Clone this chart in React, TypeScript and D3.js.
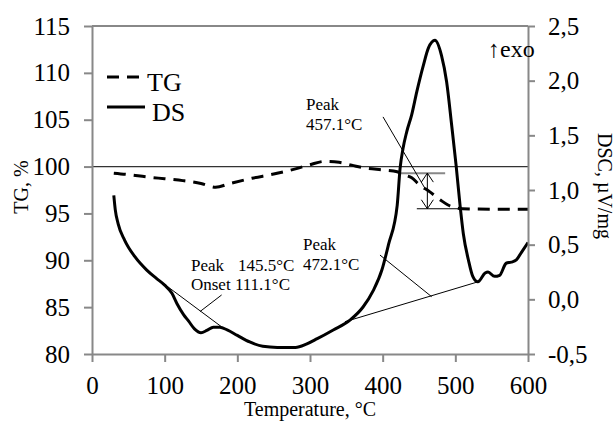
import React, { useEffect, useRef } from "react";
import { scaleLinear, line, curveMonotoneX, axisLeft, axisRight, axisBottom, select } from "d3";

// TG curve (left axis, %)
const tgTemp = [30, 50, 75, 100, 125, 150, 170, 190, 220, 250, 280, 300, 320, 340, 360, 380, 400, 420, 430, 440, 450, 465, 480, 490, 500, 510, 550, 600];
const tgMass = [99.3, 99.15, 98.9, 98.7, 98.5, 98.2, 97.8, 98.2, 98.75, 99.2, 99.75, 100.2, 100.55, 100.45, 100.1, 99.8, 99.65, 99.45, 99.1, 98.8, 98.1, 97.3, 96.4, 95.9, 95.6, 95.5, 95.45, 95.45];

// DSC curve (right axis, µV/mg)
const dscTemp = [30, 32, 36, 45, 59, 75, 89, 100, 110, 117, 126, 133, 141, 150, 158, 167, 176, 186, 200, 217, 235, 255, 280, 295, 310, 332, 355, 373, 387, 399, 408, 420, 424, 428, 433, 440, 447, 456, 463, 472, 481, 488, 495, 501, 506.5, 511, 518, 524, 531, 541, 545, 554, 561, 570, 577, 584, 591, 600];
const dscSignal = [0.95, 0.82, 0.69, 0.54, 0.39, 0.27, 0.19, 0.13, 0.055, -0.04, -0.14, -0.2, -0.27, -0.305, -0.285, -0.255, -0.255, -0.28, -0.33, -0.39, -0.43, -0.44, -0.44, -0.41, -0.36, -0.28, -0.19, -0.07, 0.08, 0.27, 0.5, 0.86, 1.2, 1.38, 1.53, 1.69, 1.9, 2.14, 2.3, 2.37, 2.23, 1.99, 1.59, 1.23, 0.86, 0.6, 0.36, 0.21, 0.16, 0.24, 0.25, 0.21, 0.22, 0.33, 0.34, 0.36, 0.43, 0.52];

const tempTicks = [0, 100, 200, 300, 400, 500, 600];
const massTicks = [80, 85, 90, 95, 100, 105, 110, 115];
const dscTicks = [-0.5, 0, 0.5, 1, 1.5, 2, 2.5];

// annotation lines, in data units [temp, value]
const onsetTangent = [[98, 0.146], [178, -0.25]];
const onsetPointer = [[178.4, 0.04], [148.6, -0.112]];
const peakBaseline = [[348, -0.205], [531.6, 0.161]];
const peakPointer = [[396.3, 0.405], [467.4, 0.024]];
const stepTop = [[425, 99.3], [486, 99.3]];
const stepBottom = [[447, 95.5], [517, 95.5]];
const stepArrow = [[461.5, 99.3], [461.5, 95.5]];
const dtgPointer = [[400.5, 105.3], [458, 97.7]];

const W = 615;
const H = 421;
const margin = { top: 26, right: 87, bottom: 67, left: 92 };
const font = "'Liberation Serif', 'Times New Roman', serif";

export default function App() {
  const leftRef = useRef(null);
  const rightRef = useRef(null);
  const bottomRef = useRef(null);

  const x = scaleLinear().domain([0, 600]).range([margin.left, W - margin.right]);
  const yL = scaleLinear().domain([80, 115]).range([H - margin.bottom, margin.top]);
  const yR = scaleLinear().domain([-0.5, 2.5]).range([H - margin.bottom, margin.top]);

  const tgLine = line<number>()
    .x((d, i) => x(tgTemp[i]))
    .y(d => yL(d))
    .curve(curveMonotoneX);

  const dscLine = line<number>()
    .x((d, i) => x(dscTemp[i]))
    .y(d => yR(d))
    .curve(curveMonotoneX);

  const segR = (pts: number[][]) => line<number[]>().x(d => x(d[0])).y(d => yR(d[1]))(pts);
  const segL = (pts: number[][]) => line<number[]>().x(d => x(d[0])).y(d => yL(d[1]))(pts);

  useEffect(() => {
    const style = (g: any) => {
      g.select(".domain").attr("stroke", "#888").attr("stroke-width", 2);
      g.selectAll(".tick line").attr("stroke", "#888").attr("stroke-width", 2);
      g.selectAll(".tick text").attr("fill", "#000").style("font-family", font).style("font-size", "25px");
    };

    select(leftRef.current)
      .call(axisLeft(yL).tickValues(massTicks).tickSize(8).tickSizeOuter(0).tickPadding(14).tickFormat(d => String(d)))
      .call(style);

    select(rightRef.current)
      .call(axisRight(yR).tickValues(dscTicks).tickSize(7).tickSizeOuter(0).tickPadding(13)
        .tickFormat(d => (+d).toFixed(1).replace(".", ",")))
      .call(style);

    select(bottomRef.current)
      .call(axisBottom(x).tickValues(tempTicks).tickSize(8).tickSizeOuter(0).tickPadding(14).tickFormat(d => String(d)))
      .call(style);
  }, []);

  const arrowTop = [x(stepArrow[0][0]), yL(stepArrow[0][1])];
  const arrowBot = [x(stepArrow[1][0]), yL(stepArrow[1][1])];

  return (
    <svg width={W} height={H} style={{ position: "absolute", left: 0, top: 0, background: "#fff" }}>
      <rect width={W} height={H} fill="#fff" />
      {/* top frame */}
      <line x1={x(0)} x2={x(600)} y1={yL(115)} y2={yL(115)} stroke="#888" strokeWidth={2} />

      {/* reference line at 100 % */}
      <line x1={x(0)} x2={x(600)} y1={yL(100)} y2={yL(100)} stroke="#333" strokeWidth={1.2} />

      {/* annotation lines */}
      <path d={segR(onsetTangent)} stroke="#000" strokeWidth={1} fill="none" />
      <path d={segR(onsetPointer)} stroke="#000" strokeWidth={1} fill="none" />
      <path d={segR(peakBaseline)} stroke="#000" strokeWidth={1} fill="none" />
      <path d={segR(peakPointer)} stroke="#000" strokeWidth={1} fill="none" />
      <path d={segL(stepTop)} stroke="#888" strokeWidth={2} fill="none" />
      <path d={segL(stepBottom)} stroke="#000" strokeWidth={1.2} fill="none" />
      <path d={segL(dtgPointer)} stroke="#000" strokeWidth={1} fill="none" />
      <path d={segL(stepArrow)} stroke="#000" strokeWidth={1} fill="none" />
      <path
        d={`M${arrowTop[0] - 6},${arrowTop[1] + 9}L${arrowTop[0]},${arrowTop[1]}L${arrowTop[0] + 6},${arrowTop[1] + 9}`}
        stroke="#000" strokeWidth={1} fill="none"
      />
      <path
        d={`M${arrowBot[0] - 6},${arrowBot[1] - 9}L${arrowBot[0]},${arrowBot[1]}L${arrowBot[0] + 6},${arrowBot[1] - 9}`}
        stroke="#000" strokeWidth={1} fill="none"
      />

      {/* data */}
      <path d={tgLine(tgMass) || ""} fill="none" stroke="#000" strokeWidth={3} strokeDasharray="12,8" />
      <path d={dscLine(dscSignal) || ""} fill="none" stroke="#000" strokeWidth={3} />

      {/* axes */}
      <g ref={leftRef} transform={`translate(${margin.left},0)`} />
      <g ref={rightRef} transform={`translate(${W - margin.right},0)`} />
      <g ref={bottomRef} transform={`translate(0,${H - margin.bottom})`} />

      <g fontFamily={font} fill="#000">
        {/* annotation text */}
        <g fontSize={17}>
          <text x={x(136.2)} y={yR(0.262)}>Peak</text>
          <text x={x(200.9)} y={yR(0.262)}>145.5°C</text>
          <text x={x(136.2)} y={yR(0.085)}>Onset 111.1°C</text>
          <text x={x(290.4)} y={yR(0.451)}>Peak</text>
          <text x={x(290.4)} y={yR(0.268)}>472.1°C</text>
          <text x={x(294.5)} y={yR(1.732)}>Peak</text>
          <text x={x(294.5)} y={yR(1.549)}>457.1°C</text>
        </g>
        <text x={x(545)} y={yR(2.216)} fontSize={24}>↑exo</text>

        {/* legend */}
        <line x1={107} x2={140} y1={77} y2={77} stroke="#000" strokeWidth={3} strokeDasharray="12,8" />
        <text x={147} y={91} fontSize={26}>TG</text>
        <line x1={107} x2={145} y1={107} y2={107} stroke="#000" strokeWidth={3} />
        <text x={152} y={121} fontSize={26}>DS</text>

        {/* axis titles */}
        <text transform="translate(28,187) rotate(-90)" textAnchor="middle" fontSize={20}>TG, %</text>
        <text transform="translate(598,186) rotate(90)" textAnchor="middle" fontSize={20}>DSC, µV/mg</text>
        <text x={310} y={416} textAnchor="middle" fontSize={20}>Temperature, °C</text>
      </g>
    </svg>
  );
}
